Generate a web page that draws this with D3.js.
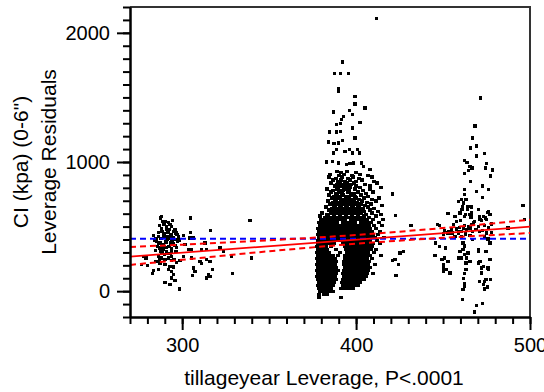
<!DOCTYPE html>
<html>
<head>
<meta charset="utf-8">
<script src="https://cdn.jsdelivr.net/npm/d3@7"></script>
<style>
  html, body { margin: 0; padding: 0; background: #fff; }
  svg { display: block; }
  text { font-family: "Liberation Sans", Arial, sans-serif; fill: #000; }
</style>
</head>
<body>
<svg id="chart" width="544" height="392"></svg>
<script>
// ---------------- data ----------------
const xDomain = [270, 500];
const yDomain = [-200, 2200];
const xTickLabels = [300, 400, 500];
const yTickLabels = [0, 1000, 2000];
const xTitle = "tillageyear Leverage, P<.0001";
const yTitleLines = ["CI (kpa) (0-6\")", "Leverage Residuals"];

// mean line (blue) and fitted line with confidence curves (red)
const meanValue = 405;
const fitX = [270, 500];
const fitY = [268, 499];
const bandX = [270, 300, 350, 400, 450, 500];
const bandUpper = [342, 360, 394, 435, 489, 553];
const bandLower = [203, 243, 309, 367, 413, 450];

// individual scattered points [x, y]
const scatterPoints = [
  [411.8,2111],[392.2,1774],[387.6,1683],[391.0,1683],[395.8,1683],[389.9,1565],[389.9,1544],[399.3,1508],
  [399.3,1449],[405.1,1418],[386.8,1387],[396.0,1399],[398.0,1366],[392.6,1353],[391.7,1327],[388.8,1289],
  [391.1,1296],[402.2,1306],[398.0,1263],[384.6,1232],[388.8,1232],[391.1,1237],[399.3,1186],[384.0,1155],
  [387.2,1142],[389.7,1147],[392.2,1167],[386.8,1070],[388.8,1095],[393.6,1082],[396.0,1095],[398.0,1070],
  [400.6,1095],[401.8,1070],[383.0,1000],[386.4,1005],[389.7,992],[394.5,979],[396.4,987],[398.3,992],
  [403.1,992],[404.1,966],[407.9,940],
  // left group
  [287.6,567],[290.1,540],[289.5,515],[291.1,502],[294.5,548],[304.9,567],[339.0,548],[316.4,471],
  [292.6,476],[294.9,463],[296.4,450],[304.9,455],[283.4,430],[286.3,424],[289.1,437],[291.1,424],
  [293.0,420],[294.9,412],[297.8,420],[300.6,430],[304.5,412],[306.4,412],[285.3,385],[287.2,373],
  [289.1,360],[291.1,378],[293.4,373],[287.2,334],[289.1,321],[291.1,308],[294.0,308],[301.6,360],
  [303.5,321],[313.1,373],[314.1,321],[311.2,321],[321.7,334],[323.6,308],[305.5,257],[277.6,269],
  [279.2,257],[286.3,269],[288.2,257],[290.1,244],[292.0,257],[294.0,269],[298.7,238],[310.2,231],
  [311.2,213],[314.1,244],[316.0,231],[328.4,269],[279.9,197],[287.2,218],[290.1,205],[293.0,192],
  [294.9,187],[283.4,161],[286.3,166],[292.0,166],[294.0,153],[294.9,128],[317.5,166],[315.0,128],
  [314.1,102],[306.0,120],[329.0,135],[283.0,135],[290.1,68],[294.0,102],[295.9,84],[293.0,50],
  [298.3,17],[339.9,257],[300.6,269],[288.4,461],[291.8,453],[287.8,406],[291.3,399],[294.1,391],
  [289.5,344],[292.4,344],[295.9,352],[288.4,298],[291.8,290],[295.3,244],[296.4,306],[288.2,579],
  [293.0,515],[276.7,205],[316.0,114],[306.4,180],[307.4,153],[305.5,321],
  [288.6,538],[292.2,530],[286.8,507],[293.9,499],[288.0,484],[290.8,476],[295.8,476],[286.5,453],
  [289.9,445],[293.6,441],[297.0,437],[284.9,406],[289.4,414],[292.7,406],[296.4,402],[298.5,395],
  [283.9,391],[286.6,368],[290.3,387],[294.9,368],[297.4,383],[285.7,344],[290.9,337],[293.9,329],
  [296.9,337],[284.7,313],[287.6,306],[293.4,290],[289.9,282],[286.9,244],[293.7,236],[296.8,221],
  [284.9,228],
  // right group
  [471.5,1495],[468.3,1279],[466.9,1186],[465.6,1108],[469.4,1124],[469.4,1046],[474.0,1064],[462.3,1012],
  [463.8,997],[465.4,966],[466.7,954],[464.6,935],[475.0,987],[474.2,954],[478.6,938],[477.3,892],
  [462.3,909],[465.8,848],[472.7,814],[476.1,786],[469.2,770],[472.7,724],[462.5,786],[462.3,747],
  [460.4,708],[463.1,708],[464.0,656],[466.4,652],[461.2,656],[421.0,752],[496.0,662],
  [464.0,631],[465.4,592],[462.5,579],[459.7,605],[422.7,584],[452.9,600],[456.8,579],[457.8,540],
  [455.8,515],[475.9,610],[473.4,579],[472.1,548],[475.0,553],[476.9,592],[497.0,553],[431.5,507],
  [447.8,507],[487.4,489],
  [451.0,471],[452.9,450],[454.9,463],[457.8,481],[458.7,450],[460.6,463],[463.5,476],[465.4,489],
  [462.5,507],[466.4,515],[470.2,502],[474.0,507],[456.8,424],[460.6,424],[465.4,430],[475.0,450],
  [475.9,404],[476.9,373],[471.1,463],[450.1,443],
  [461.5,373],[459.7,308],[461.5,321],[462.5,283],[464.4,296],[463.5,257],[460.6,257],[465.4,231],
  [463.1,218],[458.7,257],[451.0,257],[452.9,231],[450.1,205],[452.0,166],[453.9,141],[450.1,153],
  [470.2,308],[475.0,308],[476.9,244],[470.2,218],[472.1,180],[475.9,180],[472.1,141],[475.0,89],
  [471.1,76],[445.3,275],[447.8,347],
  [425.2,296],[427.1,308],[422.3,244],[424.2,205],[422.9,120],[421.0,236],
  [462.5,37],[461.5,12],[474.0,17],[474.0,76],[461.2,-66],[469.2,-112],[472.7,-97],[467.9,-161],
  [446.8,515],[445.5,373],[451.2,334],[449.3,244],[450.3,180],
  [470.4,321],[474.2,308],[471.3,231],[473.2,192],[476.1,166],[477.1,89],[474.2,89],[473.2,50],[475.7,33],
  [458.9,695],[461.7,683],[464.6,656],[460.8,631],[462.7,592],[466.5,605],[470.4,631],[476.1,618],
  [477.1,592],[474.2,567],[471.3,553],[467.5,528],[464.6,502],[461.7,489],[458.9,463],[455.1,450],
  [453.2,463],[462.3,350],[463.1,170],[462.5,135],[461.7,100],[462.3,62],
  [459.5,495],[463.0,443],[467.0,460],[469.0,480],[472.5,470],[476.0,495],[478.0,520],[468.0,540],
  [471.0,580],[466.0,575],[460.0,545],[455.0,480],[473.8,420],[466.8,400],[477.8,455]
];

// dense central group, row by row: [y, [x values]]
const blobRows = [
  [925,[389.0,394.7]],[918,[391.3,399.9]],
  [906,[384.9,393.0,402.2]],[896,[390.1,397.6,406.8]],
  [884,[384.4,391.8,398.2,409.1]],[872,[388.4,395.3,401.6]],
  [860,[386.7,391.3,396.4,403.3]],[850,[389.5,393.6,399.9,410.2]],
  [838,[385.5,390.7,394.7,398.7,412.0]],[826,[389.0,392.4,397.0,405.1]],
  [815,[387.8,391.3,394.7,399.9,407.9]],[803,[389.5,393.0,396.4,402.2,414.3]],
  [792,[383.2,389.0,394.1,399.3,407.9]],[780,[386.7,390.7,392.4,395.9,403.9]],
  [768,[385.5,390.1,395.3,401.0,409.7]],[756,[388.4,391.8,397.0,398.7,405.6]],
  [745,[384.4,389.0,392.4,397.6,402.8]],[733,[387.2,390.7,394.1,395.9,399.3,406.8]],
  [722,[386.1,389.5,394.7,399.9,404.5,413.1]],[710,[387.8,391.3,393.0,396.4,398.2,401.6,409.1]],
  [699,[383.8,388.4,391.8,395.3,398.7,403.3,411.4]],[687,[386.7,390.1,393.6,397.0,400.5,406.2]],
  [676,[384.9,389.0,392.4,395.9,399.3,402.8,408.5]],[664,[387.2,390.7,394.1,397.6,401.0,405.1,414.8]],
  [652,[382.6,387.8,391.3,394.7,398.2,401.6,406.8]],[640,[386.1,389.5,393.0,396.4,399.9,403.9,410.2]],
  [629,[384.4,388.4,391.8,395.3,398.7,402.2,407.9]],[617,[386.7,390.1,393.6,397.0,400.5,404.5,412.5]],
  [606,[380.3,385.5,389.0,392.4,395.9,399.3,402.8,409.1]],[594,[383.2,387.2,390.7,394.1,397.6,401.0,405.6,414.3]],
  [583,[379.2,383.8,387.2,390.7,394.1,397.6,401.0,404.5,411.4]],[571,[382.1,385.5,389.0,392.4,395.9,399.3,402.8,407.4]],
  [553,[379.8,381.5,383.2,384.9,386.7,388.4,390.1,391.8,393.6,397.0,398.7,400.5,402.2,403.9,406.2,409.7,415.4]],
  [530,[378.6,380.3,382.1,383.8,385.5,387.2,389.0,392.4,394.1,395.9,397.6,399.3,402.8,404.5,406.8,408.5,413.1]],
  [507,[379.2,380.9,382.6,384.4,386.1,387.8,389.5,391.3,393.0,395.3,397.0,398.7,400.5,402.2,403.9,405.6,407.4,410.2,414.8]],
  [484,[378.1,379.8,381.5,383.2,384.9,386.7,388.4,390.1,391.8,393.6,395.9,397.6,399.3,401.0,402.8,404.5,406.2,407.9,411.4]],
  [461,[378.6,380.3,382.1,383.8,385.5,387.2,389.0,390.7,392.4,394.1,396.4,398.2,399.9,401.6,403.3,405.1,406.8,409.1,413.7]],
  [437,[378.1,379.8,381.5,383.2,384.9,386.7,388.4,390.1,391.8,393.6,395.3,397.0,398.7,400.5,402.2,403.9,405.6,407.4,409.7,412.5]],
  [414,[378.6,380.3,382.1,383.8,385.5,387.2,389.0,390.7,393.0,394.7,396.4,398.2,399.9,401.6,403.3,405.1,406.8,408.5,410.8,416.0]],
  [391,[378.1,379.8,381.5,383.2,384.9,386.7,388.4,390.1,391.8,394.1,395.9,397.6,399.3,401.0,402.8,404.5,406.2,407.9,412.0]],
  [368,[378.1,379.8,381.5,383.2,384.9,387.2,392.4,394.1,395.9,397.6,399.3,401.0,402.8,404.5,406.2,407.9,409.7,413.7]],
  [344,[377.5,379.2,380.9,382.6,385.5,393.6,395.3,397.0,398.7,400.5,402.2,403.9,405.6,407.4,409.1]],
  [321,[378.1,379.8,381.5,383.2,388.4,394.1,395.9,397.6,399.3,401.0,402.8,404.5,406.2,408.5,411.4]],
  [298,[377.5,379.2,380.9,382.6,384.4,390.7,394.7,396.4,398.2,399.9,401.6,403.3,405.1,406.8,410.2]],
  [275,[378.1,379.8,381.5,383.2,384.9,386.7,389.5,393.6,395.3,397.0,398.7,400.5,402.2,403.9,405.6,407.9,414.3]],
  [252,[377.5,379.2,380.9,382.6,384.4,386.1,387.8,393.6,395.3,397.0,398.7,400.5,402.2,403.9,406.2,409.1]],
  [228,[378.1,379.8,381.5,383.2,384.9,386.7,388.4,393.0,394.7,396.4,398.2,399.9,401.6,403.3,405.1,407.4]],
  [205,[377.5,379.2,380.9,382.6,384.4,386.1,387.8,393.0,394.7,396.4,398.2,399.9,401.6,403.3,405.1,406.8,410.8]],
  [182,[378.1,379.8,381.5,383.2,384.9,386.7,388.4,393.6,395.3,397.0,398.7,400.5,402.2,403.9,405.6,407.9]],
  [159,[377.5,379.2,380.9,382.6,384.4,386.1,387.8,389.5,393.0,394.7,396.4,398.2,399.9,401.6,403.3,405.1,406.8]],
  [135,[378.1,379.8,381.5,383.2,384.9,386.7,388.4,392.4,394.1,395.9,397.6,399.3,401.0,402.8,404.5,406.2,409.7]],
  [112,[377.5,379.2,380.9,382.6,384.4,386.1,387.8,393.0,394.7,396.4,398.2,399.9,401.6,403.3,405.6]],
  [89,[378.1,379.8,381.5,383.2,384.9,386.7,388.4,392.4,394.1,395.9,397.6,399.3,401.0,402.8,404.5]],
  [66,[378.6,380.3,382.1,383.8,385.5,387.2,391.8,393.6,395.3,397.0,398.7,400.5,402.2]],
  [43,[378.1,379.8,381.5,383.2,384.9,386.7,392.4,394.1,395.9,397.6,399.3,401.0]],
  [19,[378.6,380.3,382.1,383.8,385.5,391.3,393.0,394.7,396.4,398.2]],
  [-4,[379.2,380.9,382.6,384.4,386.7]],
  [-27,[378.6,381.5,383.2]],
  [-50,[378.6,391.3]]
];

// ---------------- drawing ----------------
const svg = d3.select("#chart");
const mLeft = 130, mRight = 530, mTop = 7, mBottom = 317;

const x = d3.scaleLinear().domain(xDomain).range([mLeft, mRight]);
const y = d3.scaleLinear().domain(yDomain).range([mBottom, mTop]);

const allPoints = scatterPoints.concat(
  blobRows.flatMap(([yy, xs]) => xs.map(xx => [xx, yy]))
);

// frame (top & right)
svg.append("path")
  .attr("d", `M${mLeft},${mTop}H${mRight}V${mBottom}`)
  .attr("fill", "none")
  .attr("stroke", "#333")
  .attr("stroke-width", 2);

// points
svg.append("g")
  .attr("shape-rendering", "crispEdges")
  .selectAll("rect")
  .data(allPoints)
  .join("rect")
  .attr("x", d => x(d[0]) - 1.6)
  .attr("y", d => y(d[1]) - 1.6)
  .attr("width", 3.3)
  .attr("height", 3.3)
  .attr("fill", "#000");

// mean line
svg.append("line")
  .attr("x1", x(xDomain[0])).attr("x2", x(xDomain[1]))
  .attr("y1", y(meanValue)).attr("y2", y(meanValue))
  .attr("stroke", "#0000ff")
  .attr("stroke-width", 2)
  .attr("stroke-dasharray", "6,4");

// confidence curves
const bandLine = d3.line().x(d => x(d[0])).y(d => y(d[1])).curve(d3.curveMonotoneX);
[bandUpper, bandLower].forEach(arr => {
  svg.append("path")
    .datum(bandX.map((v, i) => [v, arr[i]]))
    .attr("d", bandLine)
    .attr("fill", "none")
    .attr("stroke", "#ff0000")
    .attr("stroke-width", 2)
    .attr("stroke-dasharray", "6,4");
});

// fit line
svg.append("path")
  .datum(fitX.map((v, i) => [v, fitY[i]]))
  .attr("d", d3.line().x(d => x(d[0])).y(d => y(d[1])))
  .attr("fill", "none")
  .attr("stroke", "#ff0000")
  .attr("stroke-width", 1.7);

// axes
const yAxisMinor = d3.axisLeft(y).tickValues(d3.range(-200, 2201, 100)).tickSize(7).tickSizeOuter(0).tickFormat("");
const yAxisMajor = d3.axisLeft(y).tickValues(yTickLabels).tickSize(13).tickSizeOuter(0).tickPadding(7).tickFormat(d3.format("d"));
const xAxisMinor = d3.axisBottom(x).tickValues(d3.range(270, 501, 10)).tickSize(7).tickSizeOuter(0).tickFormat("");
const xAxisMajor = d3.axisBottom(x).tickValues(xTickLabels).tickSize(13).tickSizeOuter(0).tickPadding(8).tickFormat(d3.format("d"));

function styleAxis(g) {
  g.selectAll("path.domain").attr("stroke", "#000").attr("stroke-width", 2);
  g.selectAll(".tick line").attr("stroke", "#000").attr("stroke-width", 2);
  g.selectAll(".tick text").style("font-size", "20px").attr("fill", "#000")
    .style("font-family", '"Liberation Sans", Arial, sans-serif');
}

svg.append("g").attr("transform", `translate(${mLeft},0)`).call(yAxisMinor).call(styleAxis);
svg.append("g").attr("transform", `translate(${mLeft},0)`).call(yAxisMajor).call(styleAxis);
svg.append("g").attr("transform", `translate(0,${mBottom})`).call(xAxisMinor).call(styleAxis);
svg.append("g").attr("transform", `translate(0,${mBottom})`).call(xAxisMajor).call(styleAxis);

// titles
svg.append("text")
  .attr("x", 324).attr("y", 385)
  .attr("text-anchor", "middle")
  .style("font-size", "21px")
  .text(xTitle);

const yTitlePos = [28, 56];
yTitleLines.forEach((t, i) => {
  svg.append("text")
    .attr("transform", `translate(${yTitlePos[i]},162) rotate(-90)`)
    .attr("text-anchor", "middle")
    .style("font-size", "21px")
    .text(t);
});
</script>
</body>
</html>
